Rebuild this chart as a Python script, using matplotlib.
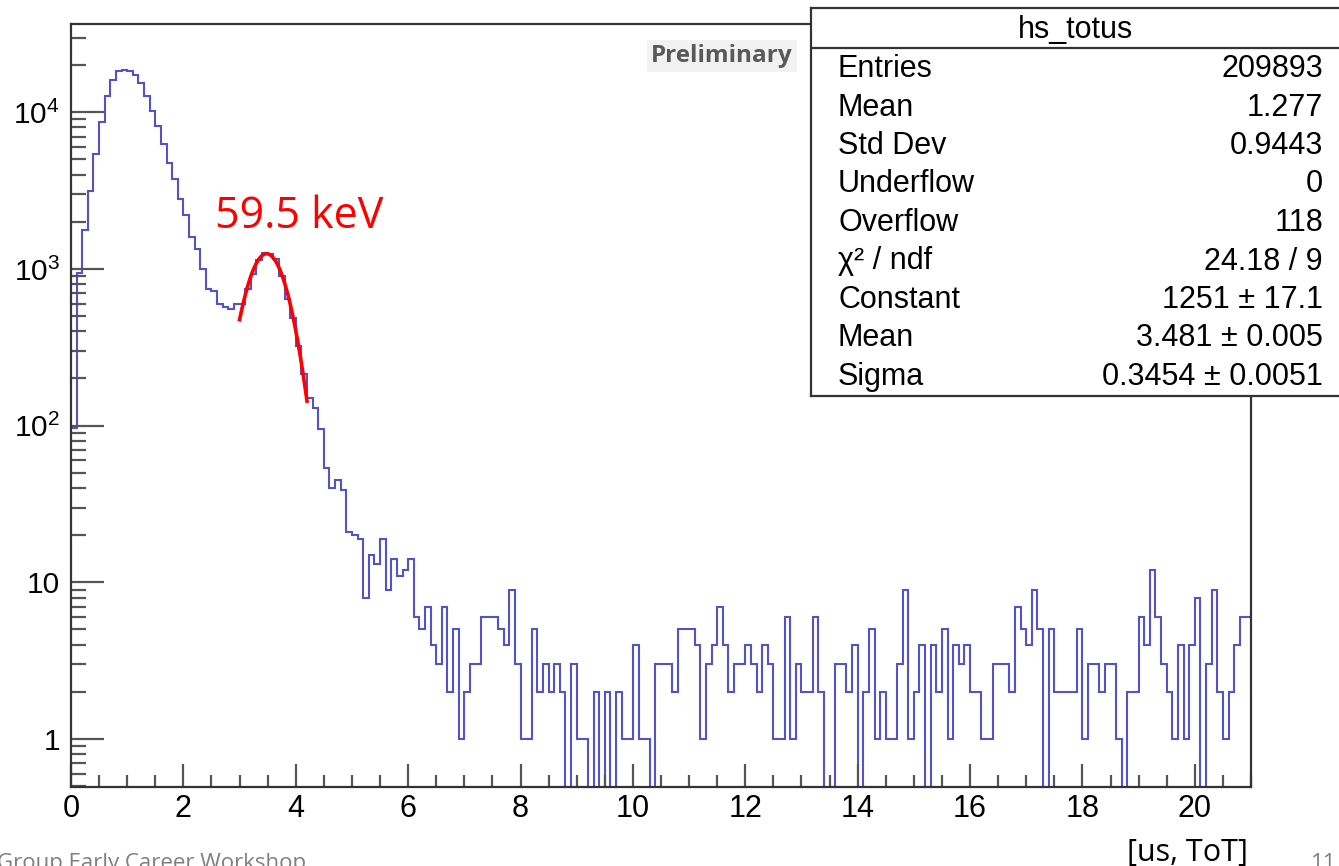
import numpy as np
import matplotlib
matplotlib.use('Agg')
import matplotlib.pyplot as plt
from matplotlib.ticker import MultipleLocator, LogLocator, FuncFormatter, NullFormatter

plt.rcParams['font.family'] = ['Liberation Sans', 'DejaVu Sans']
plt.rcParams['mathtext.fontset'] = 'custom'
plt.rcParams['mathtext.rm'] = 'Liberation Sans'
plt.rcParams['mathtext.it'] = 'Liberation Sans:italic'

# hs_totus : ToT histogram, 0.1 us bins from 0 to 21 us
bin_width = 0.1
x_max = 21.0
counts_peak = [97, 940, 1770, 3140, 5420, 8630, 12650, 16000, 18250, 18700,
               18250, 17400, 15380, 12650, 10150, 8150, 6320, 4755, 3725, 2805,
               2200, 1600, 1347, 995, 749, 724, 596, 575, 558, 596,
               596, 746, 930, 1141, 1270, 1240, 1150, 902, 641, 490,
               323, 214, 151, 130, 95, 54, 40, 45, 39, 21,
               20, 19, 8, 15, 13, 19, 9, 14, 11, 12,
               14, 6, 5, 7, 4, 3, 7, 2, 5, 1]
counts_tail = [2, 3, 3, 6, 6, 6, 5, 4, 9, 3,
               1, 1, 5, 2, 3, 2, 3, 2, 0, 3,
               1, 1, 0, 2, 0, 2, 0, 2, 1, 1,
               4, 1, 1, 0, 3, 3, 3, 2, 5, 5,
               5, 4, 1, 3, 4, 7, 4, 2, 3, 3,
               4, 3, 2, 4, 3, 1, 1, 6, 1, 3,
               2, 2, 6, 2, 0, 0, 3, 3, 2, 4,
               0, 2, 5, 1, 2, 1, 1, 3, 9, 1,
               2, 4, 0, 4, 2, 5, 1, 4, 3, 4,
               2, 2, 1, 1, 3, 3, 3, 2, 7, 5,
               4, 9, 5, 0, 5, 2, 2, 2, 2, 5,
               1, 3, 3, 2, 3, 3, 1, 0, 2, 2,
               6, 4, 12, 6, 3, 2, 1, 4, 1, 4,
               8, 0, 3, 9, 2, 1, 2, 4, 6, 6]

# gaussian fit of the 59.5 keV line
fit_const = 1251
fit_mean = 3.481
fit_sigma = 0.3454
fit_lo, fit_hi = 3.0, 4.2

stat_title = 'hs_totus'
stat_names = ['Entries', 'Mean', 'Std Dev', 'Underflow', 'Overflow',
              'χ² / ndf', 'Constant', 'Mean', 'Sigma']
stat_values = ['209893', '1.277', '0.9443', '0', '118',
               '24.18 / 9', '1251 ± 17.1', '3.481 ± 0.005', '0.3454 ± 0.0051']

W, H = 1339, 866
fig = plt.figure(figsize=(W / 100, H / 100), dpi=100)
ax = fig.add_axes([71 / W, 1 - 787 / H, 1180 / W, 763 / H])

counts = np.array(counts_peak + counts_tail, dtype=float)
edges = np.arange(len(counts) + 1) * bin_width
ax.stairs(counts, edges, color='#5252cc', lw=1.5, baseline=None)

xf = np.linspace(fit_lo, fit_hi, 200)
yf = fit_const * np.exp(-0.5 * ((xf - fit_mean) / fit_sigma) ** 2)
ax.plot(xf, yf, color='red', lw=2.6)

ax.set_yscale('log', nonpositive='clip')
ax.set_xlim(0, x_max)
ax.set_ylim(0.494, 3.66e4)


def log_label(v, pos):
    e = int(round(np.log10(v)))
    if e == 0:
        return '1'
    if e == 1:
        return '10'
    return r'$\mathregular{10^{%d}}$' % e


ax.yaxis.set_major_locator(LogLocator(base=10, numticks=10))
ax.yaxis.set_major_formatter(FuncFormatter(log_label))
ax.yaxis.set_minor_locator(LogLocator(base=10, subs=np.arange(2, 10), numticks=20))
ax.yaxis.set_minor_formatter(NullFormatter())
ax.xaxis.set_major_locator(MultipleLocator(2))
ax.xaxis.set_minor_locator(MultipleLocator(0.5))

tick_col = '#555555'
ax.tick_params(axis='y', which='major', direction='in', length=24, width=1.6,
               color=tick_col, labelsize=21.5, pad=8)
ax.tick_params(axis='y', which='minor', direction='in', length=11, width=1.6,
               color=tick_col)
ax.tick_params(axis='x', which='major', direction='in', length=16.5, width=1.6,
               color=tick_col, labelsize=22, pad=5)
ax.tick_params(axis='x', which='minor', direction='in', length=8.5, width=1.6,
               color=tick_col)
for sp in ax.spines.values():
    sp.set_color('#333333')
    sp.set_linewidth(1.6)

fig.text(215 / W, 1 - 228 / H, '59.5 keV', color='red', fontsize=31,
         family=['Open Sans', 'DejaVu Sans'], va='baseline', ha='left')

fig.text(651 / W, 1 - 56 / H, 'Preliminary', color='#595959', fontsize=17.5,
         fontweight='bold', family=['Open Sans', 'DejaVu Sans'], va='center',
         ha='left', bbox=dict(facecolor='#f2f2f2', edgecolor='none', pad=3))

# statistics box
sb = fig.add_axes([811 / W, 1 - 396 / H, (1345 - 811) / W, (396 - 8) / H])
sb.set_xticks([])
sb.set_yticks([])
sb.set_xlim(0, 1)
sb.set_ylim(396, 8)
for sp in sb.spines.values():
    sp.set_color('#333333')
    sp.set_linewidth(1.6)
sb.axhline(48, color='#333333', lw=1.6)
sb.text((1075 - 811) / (1345 - 811), 30, stat_title, fontsize=22,
        ha='center', va='center')
row_y = 69
for name, val in zip(stat_names, stat_values):
    sb.text((838 - 811) / (1345 - 811), row_y, name, fontsize=22,
            ha='left', va='center')
    sb.text((1323 - 811) / (1345 - 811), row_y, val, fontsize=22,
            ha='right', va='center')
    row_y += 38.5

fig.text(1127 / W, 1 - 861 / H, '[us, ToT]', fontsize=22,
         family=['Open Sans', 'DejaVu Sans'], ha='left', va='baseline')
fig.text(-3 / W, 1 - 869 / H, 'Group Early Career Workshop', fontsize=16,
         color='#7f7f7f', family=['Open Sans', 'DejaVu Sans'],
         ha='left', va='baseline')
fig.text(1311 / W, 1 - 869 / H, '11', fontsize=16, color='#7f7f7f',
         family=['Open Sans', 'DejaVu Sans'], ha='left', va='baseline')

fig.savefig('out.png', dpi=100)
